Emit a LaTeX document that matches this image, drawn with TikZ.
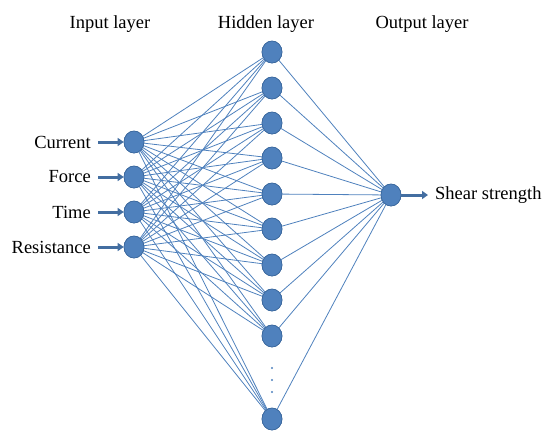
\documentclass[tikz,border=0pt]{standalone}
\usepackage{fontspec}
\setmainfont{Liberation Serif}
\usetikzlibrary{arrows.meta,shapes.geometric}
\definecolor{netblue}{HTML}{4F81BD}
\definecolor{netedge}{HTML}{3A679C}
\tikzset{
  neuron/.style={ellipse, draw=netedge, line width=0.6pt, fill=netblue,
    minimum width=20pt, minimum height=22pt, inner sep=0pt},
  link/.style={draw=netblue, line width=0.8pt},
  feed/.style={draw=netblue!85!black, line width=3pt,
    -{Triangle[length=6pt,width=8pt]}},
  lbl/.style={font=\fontsize{18.5}{21}\selectfont, inner sep=0pt},
  dot/.style={circle, fill=netblue, minimum size=2.2pt, inner sep=0pt}
}
\begin{document}
\begin{tikzpicture}[x=1pt,y=-1pt]
\useasboundingbox (0,0) rectangle (552,432);

% layer titles
\node[lbl, anchor=base] (tin) at (110,28) {Input layer};
\node[lbl, anchor=base] (thid) at (266,28) {Hidden layer};
\node[lbl, anchor=base] (tout) at (422,28) {Output layer};

% input layer
\foreach \i/\y in {1/142,2/177,3/212,4/247}
  \node[neuron] (in\i) at (134,\y) {};

% hidden layer
\foreach \j/\y in {1/52,2/88,3/123,4/158,5/194,6/229,7/265,8/300,9/336,10/419}
  \node[neuron] (h\j) at (272,\y) {};

% output layer
\node[neuron] (out) at (391,195) {};

% connections
\foreach \i in {1,...,4}
  \foreach \j in {1,...,10}
    \path[link] (in\i.center) -- (h\j.center);
\foreach \j in {1,...,10}
  \path[link] (h\j.center) -- (out.center);

% redraw nodes on top of the links
\foreach \i/\y in {1/142,2/177,3/212,4/247}
  \node[neuron] at (134,\y) {};
\foreach \j/\y in {1/52,2/88,3/123,4/158,5/194,6/229,7/265,8/300,9/336,10/419}
  \node[neuron] at (272,\y) {};
\node[neuron] at (391,195) {};

% ellipsis between hidden units
\node[dot] (d1) at (272,368) {};
\node[dot] (d2) at (272,380) {};
\node[dot] (d3) at (272,392) {};

% input labels and arrows
\foreach \i/\y/\t in {1/142/Current,2/177/Force,3/212/Time,4/247/Resistance}{
  \node[lbl, anchor=east] (lab\i) at (91,\y) {\t};
  \coordinate (s\i) at (98,\y);
  \draw[feed] (s\i) -- (in\i.west);
}

% output arrow and label
\node[lbl, anchor=west] (res) at (435,195) {Shear strength};
\coordinate (e) at (428,195);
\draw[feed] (out.east) -- (e);
\end{tikzpicture}
\end{document}
